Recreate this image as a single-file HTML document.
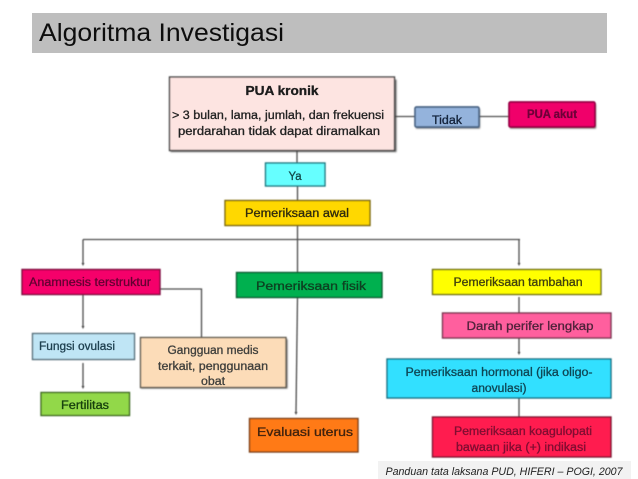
<!DOCTYPE html>
<html>
<head>
<meta charset="utf-8">
<style>
html,body{margin:0;padding:0;background:#fff;width:638px;height:479px;overflow:hidden}
svg{display:block}
text{font-family:"Liberation Sans",sans-serif;text-anchor:middle;font-size:11.5px}
.w text{stroke-width:.3px;paint-order:stroke}
</style>
</head>
<body>
<svg width="638" height="479" viewBox="0 0 638 479" xmlns="http://www.w3.org/2000/svg">
<defs>
<filter id="b" x="-5%" y="-5%" width="110%" height="110%"><feGaussianBlur stdDeviation="0.4"/></filter>
<filter id="s" x="-10%" y="-20%" width="120%" height="140%"><feGaussianBlur stdDeviation="0.9"/></filter>
<filter id="t" x="-5%" y="-20%" width="110%" height="140%"><feGaussianBlur stdDeviation="0.25"/></filter>
</defs>
<rect width="638" height="479" fill="#fff"/>
<rect x="32" y="13" width="575" height="40" fill="#bebebe"/>
<rect x="378" y="461" width="253" height="18" fill="#f2f2f2"/>

<g filter="url(#b)">
<g fill="none" stroke="#4d4d4d" stroke-width="1.3">
<path d="M297 151V163M297.500 186V200M297.500 225V239.500"/>
<path d="M83 239.500H520"/>
<path d="M83 239.500V264M297.500 239.500V272M519 239.500V264"/>
<path d="M395 116.500H415M479 116.500H509"/>
<path d="M83 294V327M83 363V387"/>
<path d="M160 289H201.500V337"/>
<path d="M297.500 297L296 412"/>
<path d="M519 297V313M519 338V353M519 398V417"/>
</g>
<g fill="#4d4d4d">
<path d="M81.500 263L84.500 263L83 266Z"/>
<path d="M81.500 326L84.500 326L83 329Z"/>
<path d="M81.500 386L84.500 386L83 389Z"/>
<path d="M294.500 412L297.500 412L296 415Z"/>
<path d="M517.500 263L520.500 263L519 266Z"/>
<path d="M517.500 352L520.500 352L519 355Z"/>
</g>

<g fill="#444" opacity=".85" filter="url(#s)">
<rect x="170.500" y="79.500" width="226" height="72.500"/>
<rect x="416" y="109" width="64" height="19.500"/>
<rect x="510" y="104" width="86" height="24.500"/>
<rect x="141" y="339" width="146.500" height="49.500"/>
</g>

<g stroke-width="1.4">
<rect x="169.500" y="77" width="225" height="73.500" fill="#fde4e1" stroke="#444"/>
<rect x="415" y="107" width="64" height="20" rx="1.500" fill="#94b3dc" stroke="#4a6484" stroke-width="1.700"/>
<rect x="509" y="102" width="86" height="25" rx="1.500" fill="#f0006a" stroke="#960044" stroke-width="1.700"/>
<rect x="265.500" y="163" width="59.500" height="23" fill="#66ffff" stroke="#1f7880"/>
<rect x="225" y="200.500" width="145" height="25" fill="#ffd800" stroke="#7a680c"/>
<rect x="22" y="269.500" width="138" height="25" fill="#f5006a" stroke="#7c0c3e"/>
<rect x="32.500" y="333.500" width="102" height="26" fill="#bfe5f5" stroke="#566f7a"/>
<rect x="41" y="392.500" width="88.500" height="23" fill="#92d84a" stroke="#3e6b20"/>
<rect x="140.500" y="337.500" width="145.500" height="50" fill="#fcdcb8" stroke="#5f5a50"/>
<rect x="236.500" y="272.500" width="145.500" height="25" fill="#00b050" stroke="#085c30"/>
<rect x="249.500" y="418.500" width="108.500" height="33.500" fill="#ff7a14" stroke="#7a4012"/>
<rect x="432.500" y="269.500" width="168.500" height="25" fill="#ffff00" stroke="#6e6e12"/>
<rect x="442.500" y="313" width="168.500" height="25" fill="#ff5f9e" stroke="#78344f"/>
<rect x="387" y="359" width="224" height="39" fill="#33e0ff" stroke="#186e82"/>
<rect x="432.500" y="417" width="178.500" height="40" fill="#ff1a4f" stroke="#7c1430"/>
</g>
</g>

<g filter="url(#t)" class="w">
<text x="39" y="41" fill="#111" style="text-anchor:start;font-size:25px" textLength="245" lengthAdjust="spacingAndGlyphs">Algoritma Investigasi</text>

<text x="282" y="95" fill="#1a1a1a" stroke="#1a1a1a" font-weight="bold" style="font-size:12.500px" textLength="73" lengthAdjust="spacingAndGlyphs">PUA  kronik</text>
<text x="278" y="119" fill="#222" stroke="#222" textLength="212" lengthAdjust="spacingAndGlyphs">&gt; 3 bulan, lama, jumlah,  dan frekuensi</text>
<text x="279" y="135" fill="#222" stroke="#222" textLength="202" lengthAdjust="spacingAndGlyphs">perdarahan tidak dapat diramalkan</text>
<text x="447" y="124" fill="#14233a" stroke="#14233a" textLength="30" lengthAdjust="spacingAndGlyphs">Tidak</text>
<text x="552" y="118" fill="#6e0638" stroke="#6e0638" font-weight="bold" textLength="50" lengthAdjust="spacingAndGlyphs">PUA akut</text>
<text x="295" y="180" fill="#124a4a" stroke="#124a4a" textLength="13" lengthAdjust="spacingAndGlyphs">Ya</text>
<text x="297" y="217" fill="#2e2a0a" stroke="#2e2a0a" textLength="104" lengthAdjust="spacingAndGlyphs">Pemeriksaan awal</text>
<text x="90" y="286" fill="#640432" stroke="#640432" textLength="122" lengthAdjust="spacingAndGlyphs">Anamnesis terstruktur</text>
<text x="77" y="350" fill="#1f3f4f" stroke="#1f3f4f" textLength="76" lengthAdjust="spacingAndGlyphs">Fungsi ovulasi</text>
<text x="85" y="409" fill="#17400a" stroke="#17400a" textLength="48" lengthAdjust="spacingAndGlyphs">Fertilitas</text>
<text x="213" y="354" fill="#3f3f3c" stroke="#3f3f3c" textLength="91" lengthAdjust="spacingAndGlyphs">Gangguan medis</text>
<text x="213" y="370" fill="#3f3f3c" stroke="#3f3f3c" textLength="110" lengthAdjust="spacingAndGlyphs">terkait, penggunaan</text>
<text x="213" y="385" fill="#3f3f3c" stroke="#3f3f3c" textLength="24" lengthAdjust="spacingAndGlyphs">obat</text>
<text x="311" y="290" fill="#0a4020" stroke="#0a4020" textLength="110" lengthAdjust="spacingAndGlyphs">Pemeriksaan fisik</text>
<text x="305" y="436" fill="#40220a" stroke="#40220a" textLength="96" lengthAdjust="spacingAndGlyphs">Evaluasi uterus</text>
<text x="518" y="286" fill="#40400a" stroke="#40400a" textLength="129" lengthAdjust="spacingAndGlyphs">Pemeriksaan tambahan</text>
<text x="530" y="330" fill="#50223a" stroke="#50223a" textLength="127" lengthAdjust="spacingAndGlyphs">Darah perifer lengkap</text>
<text x="499" y="376" fill="#0e4655" stroke="#0e4655" textLength="187" lengthAdjust="spacingAndGlyphs">Pemeriksaan hormonal (jika oligo-</text>
<text x="499" y="392" fill="#0e4655" stroke="#0e4655" textLength="55" lengthAdjust="spacingAndGlyphs">anovulasi)</text>
<text x="523" y="435" fill="#800a30" stroke="#800a30" textLength="138" lengthAdjust="spacingAndGlyphs">Pemeriksaan koagulopati</text>
<text x="521" y="451" fill="#800a30" stroke="#800a30" textLength="130" lengthAdjust="spacingAndGlyphs">bawaan jika  (+) indikasi</text>
</g>
<text x="504" y="475" fill="#222" font-style="italic" style="font-size:11px" textLength="237" lengthAdjust="spacingAndGlyphs">Panduan tata laksana PUD, HIFERI – POGI, 2007</text>
</svg>
</body>
</html>
